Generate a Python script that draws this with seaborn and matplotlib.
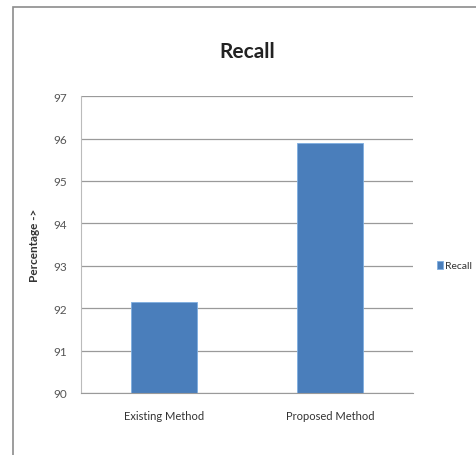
import matplotlib.pyplot as plt
import pandas as pd
import seaborn as sbn
from matplotlib.patches import Rectangle

methods = ["Existing Method", "Proposed Method"]
recall = [92.15, 95.9]
series = ["Recall", "Recall"]
yticks = [90, 91, 92, 93, 94, 95, 96, 97]

df = pd.DataFrame({"method": methods, "recall": recall, "series": series})

sbn.set_style("white")
plt.rcParams["font.family"] = ["Lato", "DejaVu Sans"]

fig = plt.figure(figsize=(4.77, 4.56), dpi=100)
axes = fig.add_axes([0.170, 0.136, 0.696, 0.651])

# outer chart border
fig.patches.append(
    Rectangle((13 / 477, -0.02), 1.0, 1 - 8 / 456 + 0.02, transform=fig.transFigure,
              fill=False, edgecolor="#8c8c8c", linewidth=1.2)
)

sbn.barplot(data=df, x="method", y="recall", hue="series", palette=["#4a7ebb"],
            saturation=1, width=0.4, ax=axes, edgecolor="#7eaee0", linewidth=0.6)

axes.set_ylim(90, 97)
axes.set_yticks(yticks)
axes.set_yticklabels([str(t) for t in yticks], color="#555555", fontsize=8.5)
axes.tick_params(axis="y", length=4, color="#999999", pad=6)
axes.tick_params(axis="x", length=0, pad=12, labelsize=8, labelcolor="#333333")
axes.yaxis.grid(True, color="#9a9a9a", linewidth=0.9)
axes.set_axisbelow(True)
for side in ["top", "right"]:
    axes.spines[side].set_visible(False)
axes.spines["left"].set_color("#bbbbbb")
axes.spines["bottom"].set_color("#9a9a9a")

axes.set_xlabel("")
axes.set_ylabel("Percentage ->", fontsize=8.5, fontweight="bold", color="#333333",
                labelpad=10)
axes.set_title("Recall", fontsize=15, fontweight="bold", color="#222222", pad=28)

leg = axes.legend(loc="center left", bbox_to_anchor=(1.045, 0.43), frameon=False,
                  handlelength=0.5, handleheight=0.8, handletextpad=0.25,
                  prop={"size": 7.5})
for t in leg.get_texts():
    t.set_color("#333333")

fig.savefig("out.png", dpi=100)
